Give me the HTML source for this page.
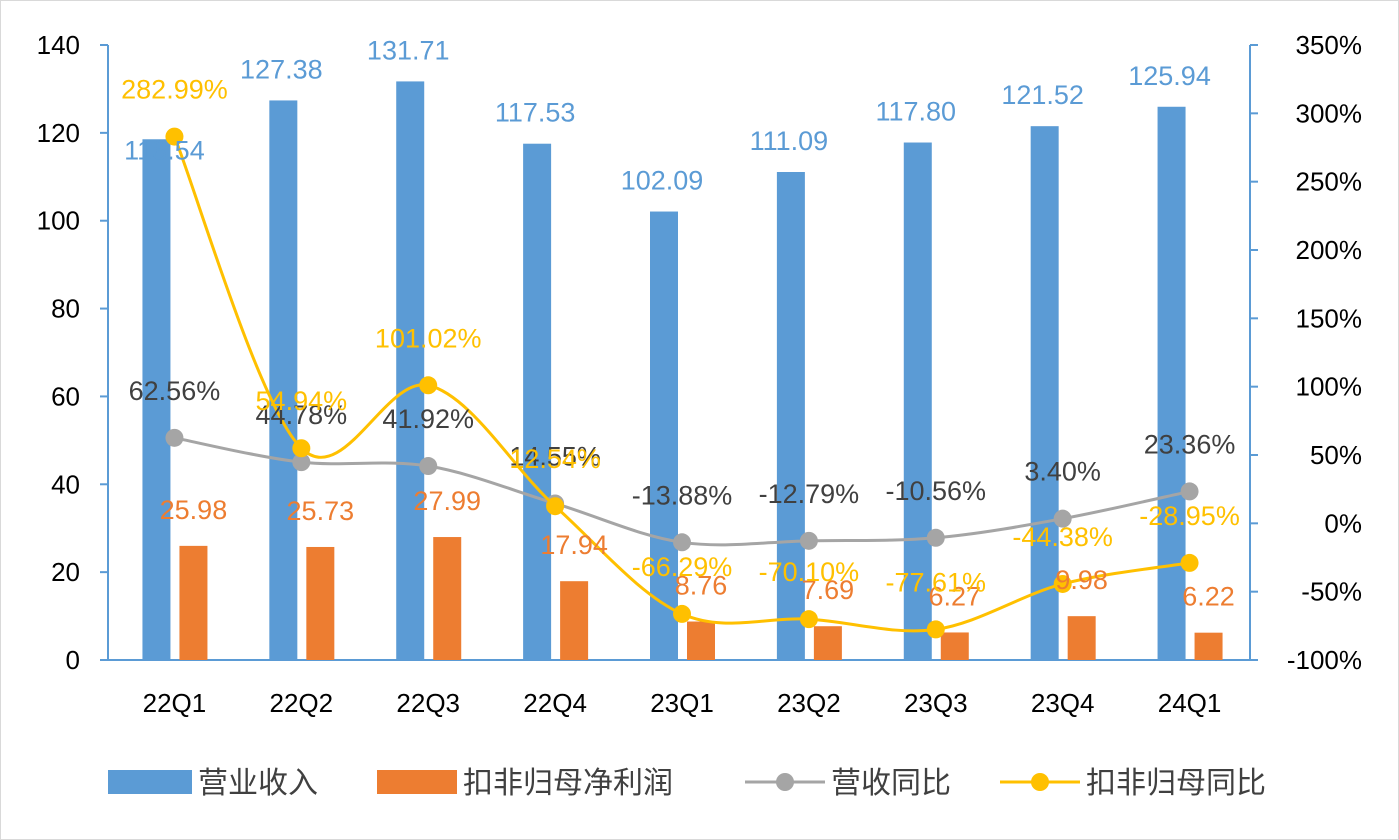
<!DOCTYPE html>
<html><head><meta charset="utf-8"><style>
body{margin:0;background:#fff}
svg{display:block;font-family:"Liberation Sans","Noto Sans CJK SC",sans-serif}
</style></head><body>
<svg id="c" width="1399" height="840" xmlns="http://www.w3.org/2000/svg">
<rect x="0.5" y="0.5" width="1398" height="839" fill="#fff" stroke="#d9d9d9"/>
<g id="g"></g>
</svg>
<script>
const categories=["22Q1","22Q2","22Q3","22Q4","23Q1","23Q2","23Q3","23Q4","24Q1"];
const revenue=[118.54,127.38,131.71,117.53,102.09,111.09,117.80,121.52,125.94];
const profit=[25.98,25.73,27.99,17.94,8.76,7.69,6.27,9.98,6.22];
const revYoY=[62.56,44.78,41.92,14.55,-13.88,-12.79,-10.56,3.40,23.36];
const profYoY=[282.99,54.94,101.02,12.54,-66.29,-70.10,-77.61,-44.38,-28.95];
const leftTicks=[0,20,40,60,80,100,120,140];
const rightTicks=[-100,-50,0,50,100,150,200,250,300,350];

const NS="http://www.w3.org/2000/svg",g=document.getElementById('g');
const X0=108,X1=1250,Y0=660,Y1=45;
const bw=(X1-X0)/categories.length;
const cx=i=>X0+bw*(i+0.5)+3;
const yL=v=>Y0-(v/140)*(Y0-Y1);
const yR=v=>Y0-((v+100)/450)*(Y0-Y1);
function el(t,a,txt){const e=document.createElementNS(NS,t);for(const k in a)e.setAttribute(k,a[k]);if(txt!==undefined)e.textContent=txt;g.appendChild(e);return e;}

leftTicks.forEach(v=>{
 const t=el('text',{x:80,y:yL(v)+9,'text-anchor':'end','font-size':26,fill:'#000'},v);
 
 
 const m=el('line',{x1:X0-8,x2:X0,y1:yL(v),y2:yL(v),stroke:'#5b9bd5','stroke-width':2});
 
 
});
rightTicks.forEach(v=>{
 const t=el('text',{x:1362,y:yR(v)+9,'text-anchor':'end','font-size':26,fill:'#000'},v+'%');
 
 
 const m=el('line',{x1:X1,x2:X1+8,y1:yR(v),y2:yR(v),stroke:'#5b9bd5','stroke-width':2});
 
 
});
let a=el('line',{x1:X0,x2:X0,y1:Y1,y2:Y0,stroke:'#5b9bd5','stroke-width':2});


a=el('line',{x1:X1,x2:X1,y1:Y1,y2:Y0,stroke:'#5b9bd5','stroke-width':2});


a=el('line',{x1:X0,x2:X1,y1:Y0,y2:Y0,stroke:'#5b9bd5','stroke-width':2});



categories.forEach((c,i)=>{
 const t=el('text',{x:cx(i),y:712,'text-anchor':'middle','font-size':26,fill:'#000'},c);
 
 
 const b=el('rect',{x:cx(i)-32,y:yL(revenue[i]),width:28,height:Y0-yL(revenue[i]),fill:'#5b9bd5'});
 
 
 const o=el('rect',{x:cx(i)+5,y:yL(profit[i]),width:28,height:Y0-yL(profit[i]),fill:'#ed7d31'});
 
 
});

function smooth(pts){let d='M'+pts[0][0]+','+pts[0][1];
 for(let i=0;i<pts.length-1;i++){const p0=pts[i-1]||pts[i],p1=pts[i],p2=pts[i+1],p3=pts[i+2]||p2;
  d+=` C${p1[0]+(p2[0]-p0[0])/6},${p1[1]+(p2[1]-p0[1])/6} ${p2[0]-(p3[0]-p1[0])/6},${p2[1]-(p3[1]-p1[1])/6} ${p2[0]},${p2[1]}`;}
 return d;}
function series(vals,color,name){
 const pts=vals.map((v,i)=>[cx(i),yR(v)]);
 const p=el('path',{d:smooth(pts),fill:'none',stroke:color,'stroke-width':3});
 
 
 pts.forEach((q,i)=>{const c=el('circle',{cx:q[0],cy:q[1],r:9,fill:color});
  
  });
 return pts;}
const gp=series(revYoY,'#a5a5a5','revenue-yoy');
const yp=series(profYoY,'#ffc000','profit-yoy');

categories.forEach((c,i)=>{
 let t=el('text',{x:cx(i)-(i==0?10:20),y:yL(revenue[i])+(i==0?20:-22),'text-anchor':'middle','font-size':27,fill:'#5b9bd5'},revenue[i].toFixed(2));
 
 
 t=el('text',{x:cx(i)+19,y:yL(profit[i])-27,'text-anchor':'middle','font-size':27,fill:'#ed7d31'},profit[i].toFixed(2));
 
 
 t=el('text',{x:gp[i][0],y:gp[i][1]-38,'text-anchor':'middle','font-size':27,fill:'#404040'},revYoY[i].toFixed(2)+'%');
 
 
 t=el('text',{x:yp[i][0],y:yp[i][1]-38,'text-anchor':'middle','font-size':27,fill:'#ffc000'},profYoY[i].toFixed(2)+'%');
 
 
});

// legend
let l=el('rect',{x:108,y:770,width:84,height:24,fill:'#5b9bd5'});


l=el('text',{x:198,y:793,'font-size':30,fill:'#404040'},'营业收入');


l=el('rect',{x:377,y:770,width:80,height:24,fill:'#ed7d31'});


l=el('text',{x:463,y:793,'font-size':30,fill:'#404040'},'扣非归母净利润');


l=el('line',{x1:745,x2:825,y1:782,y2:782,stroke:'#a5a5a5','stroke-width':3});


l=el('circle',{cx:785,cy:782,r:9,fill:'#a5a5a5'});


l=el('text',{x:831,y:793,'font-size':30,fill:'#404040'},'营收同比');


l=el('line',{x1:1000,x2:1080,y1:782,y2:782,stroke:'#ffc000','stroke-width':3});


l=el('circle',{cx:1040,cy:782,r:9,fill:'#ffc000'});


l=el('text',{x:1086,y:793,'font-size':30,fill:'#404040'},'扣非归母同比');


</script>
</body></html>
